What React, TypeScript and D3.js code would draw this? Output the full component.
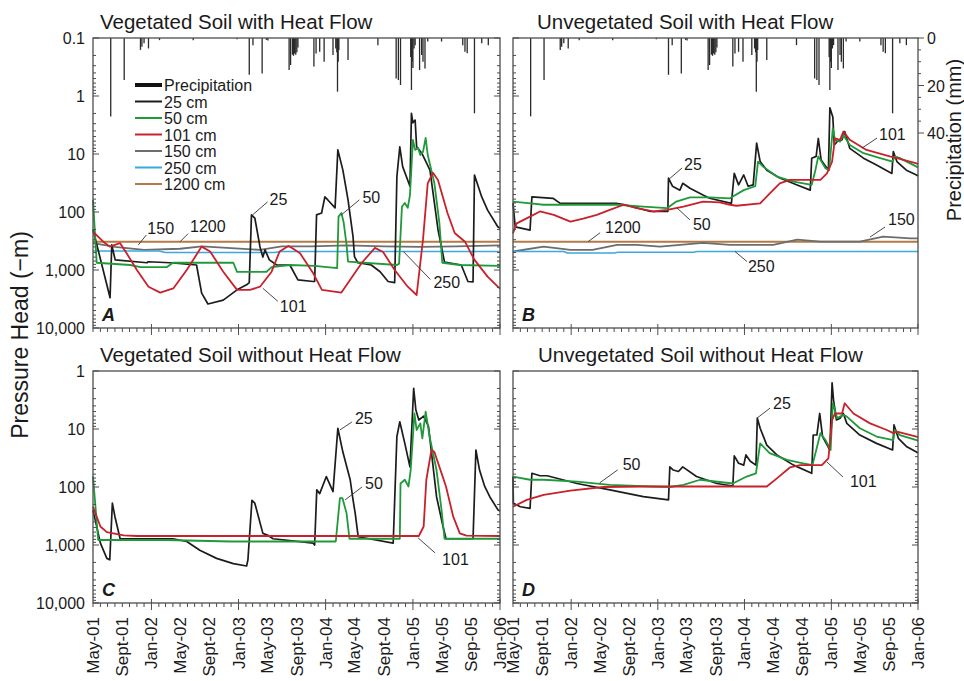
import React from 'react';
import * as d3 from 'd3';

type Pt = [number, number];

// x values: months since May 1, 2001; y values: pressure head (−m)
const vegHeat25: Pt[] = [[0,200],[2.34,3000],[2.57,370],[3.03,670],[7.39,750],[7.57,720],[10.6,750],[14.26,820],[14.95,2500],[15.8,3850],[17.9,3300],[19.8,2200],[21.1,1800],[21.5,1650],[21.83,112],[22.3,127],[23.0,400],[23.4,600],[23.7,450],[24.3,670],[25.3,820],[27.1,820],[28.2,1480],[30.3,1580],[30.5,1580],[30.77,112],[31.46,104],[31.9,55],[32.3,62],[33.3,85],[33.7,8.5],[34.4,19],[35.1,62],[35.8,267],[36.0,590],[36.45,750],[38.3,820],[39.5,1070],[40.6,1580],[41.5,1650],[41.8,24.5],[42.2,7.5],[42.6,16.5],[43.6,36],[43.8,2.0],[44.0,2.9],[44.3,2.6],[44.5,7.5],[45.2,9.6],[46.4,19],[47.5,200],[48.4,730],[50.7,820],[51.6,1580],[52.3,1600],[52.5,23],[53.5,55],[54.3,93],[55.7,180],[56,190]];
const vegHeat50: Pt[] = [[0,62],[0.5,750],[5.1,820],[6.5,890],[10.2,890],[11,750],[19.3,750],[19.8,1080],[23.9,1080],[24.6,890],[27.1,820],[30.5,850],[33.6,930],[33.8,120],[34.2,104],[34.5,150],[34.9,370],[35.1,715],[41.8,820],[42.1,780],[42.5,81],[42.9,70],[43.3,85],[43.6,51],[44.0,5.7],[44.3,8.5],[44.7,7.9],[45.0,10.4],[45.4,9.2],[45.8,5.3],[46.1,10.4],[47.0,32],[47.7,155],[48.1,750],[50.5,820],[56,850]];
const vegHeat101: Pt[] = [[0,219],[1.4,325],[2.3,395],[3.0,370],[3.7,345],[4.6,515],[6.0,1000],[7.6,1940],[9.2,2450],[11.05,2080],[12.9,1000],[14.95,395],[16.1,480],[17.9,1070],[19.8,2200],[21.6,2200],[23.0,1940],[24.6,1070],[25.7,480],[26.9,385],[27.5,425],[28.5,515],[30.3,1140],[31.5,2200],[34.2,2450],[37.0,750],[38.8,415],[39.9,490],[41.5,1000],[43.3,1940],[44.5,2700],[45.4,300],[46.1,32],[46.8,21],[47.5,28],[48.8,104],[49.8,230],[51.2,325],[52.5,670],[54.3,1300],[55.7,1940],[56,2100]];
const vegHeat150: Pt[] = [[0,345],[3,400],[7,450],[12,430],[15,390],[19,420],[23,450],[26,390],[30,390],[35,375],[40,390],[45,400],[50,390],[56,375]];
const vegHeat250: Pt[] = [[0,470],[9,470],[10,500],[25,500],[26,480],[56,480]];
const vegHeat1200: Pt[] = [[0,325],[56,325]];

const unvegHeat25: Pt[] = [[0,70],[0.3,180],[2.35,205],[2.6,55],[5.5,58],[6.5,71],[14.3,71],[15.5,75],[19,98],[21.4,98],[21.5,26],[22.1,36],[23.1,42],[23.5,32],[24.5,39],[26.3,51],[27.2,58],[30.2,71],[30.6,21.6],[31.2,34],[31.9,23],[32.5,36],[33.2,34],[33.7,6.5],[34.2,13.5],[35.1,19],[36.9,26],[39.2,34],[41.1,42],[41.3,11.8],[41.9,11],[42.2,5.4],[42.6,12.7],[43.6,19],[43.8,1.6],[44.2,2.3],[44.4,7],[44.8,6.1],[45.5,5.7],[45.9,4.1],[46.6,8],[48.5,11.8],[50.3,15.5],[52.4,21.6],[52.6,9.1],[53.1,13.5],[54.4,19],[55.8,23],[56,24]];
const unvegHeat50: Pt[] = [[0,66],[2.4,71],[4.2,75],[14.4,75],[18,81],[21.3,86],[22.6,66],[24.5,56],[27.2,56],[30,58],[31.9,42],[33.5,36],[33.9,13.5],[34.6,16.5],[36.5,24.5],[38.8,30],[41.3,34],[41.8,19],[42.2,11],[43.2,17.6],[43.7,19],[44.2,3.6],[44.5,5.7],[45.2,6.1],[45.7,4.7],[46.6,7],[48.5,9.7],[50.8,11.8],[52.5,13.5],[52.8,11],[53.5,11.8],[55.8,16.5],[56,17]];
const unvegHeat101: Pt[] = [[0,233],[0.5,157],[2.35,120],[3.7,98],[5.6,112],[7.9,147],[9.7,130],[11.6,112],[13.4,92],[15.3,75],[17.1,86],[19.4,98],[21.3,92],[23.6,81],[26.3,66],[28.6,68],[30,75],[30.9,78],[34.2,71],[35.5,48],[36.9,32],[38.3,28],[42.5,28],[43.4,21.6],[44.1,13.5],[44.5,5.4],[45.2,5.7],[45.7,4.1],[46.6,5.7],[48.9,8.5],[52.1,11],[53.1,11.8],[55.8,14.5],[56,15]];
const unvegHeat150: Pt[] = [[0,480],[4.2,395],[7.9,450],[11,450],[14.4,370],[17.1,370],[20.3,395],[26.3,340],[30,370],[36,370],[39.3,300],[42.5,325],[48,325],[51.2,265],[55,285],[56,285]];
const unvegHeat250: Pt[] = [[0,480],[7,480],[7.5,510],[14,510],[14.5,495],[25,495],[25.5,480],[56,480]];
const unvegHeat1200: Pt[] = [[0,325],[56,325]];

const vegNoHeat25: Pt[] = [[0,250],[1,930],[1.9,1700],[2.3,1800],[2.65,190],[3,325],[3.7,780],[11,780],[12.9,870],[14.7,1230],[17,1700],[19.3,2090],[21.1,2300],[21.3,1800],[21.9,170],[22.3,190],[23.4,630],[24.1,680],[24.8,780],[30.3,930],[30.5,1000],[30.8,112],[31.2,130],[32.1,66],[33,120],[33.7,9.7],[34.4,25],[35.4,75],[35.8,167],[36.1,285],[36.5,720],[38,780],[41.3,930],[41.8,13.5],[42.2,7.5],[42.9,17.7],[43.6,45],[44.1,2.0],[44.4,4.7],[44.8,7],[45.5,6],[46.2,9],[47.3,147],[48.2,480],[48.6,780],[52.3,780],[52.7,23],[53.2,51],[53.9,98],[54.6,147],[55.75,250],[56,260]];
const vegNoHeat50: Pt[] = [[0,66],[0.7,820],[10,820],[19,870],[33.4,870],[34,156],[34.35,156],[34.9,285],[35.3,780],[42.2,780],[42.3,87],[42.9,75],[43.4,98],[43.7,51],[44.2,5.4],[44.5,10.4],[45,8],[45.3,14.5],[45.8,5.0],[46.35,13.5],[47.3,51],[48,250],[48.4,780],[56,780]];
const vegNoHeat101: Pt[] = [[0,219],[1,480],[1.9,600],[4.2,680],[6,700],[44.8,700],[45.5,480],[45.9,75],[46.6,23],[47,25],[47.7,45],[48.6,98],[49.6,325],[50.5,630],[51.4,690],[56,700]];

const unvegNoHeat25: Pt[] = [[0,66],[0.05,190],[1,219],[2.35,233],[2.6,58],[3.7,64],[4.7,64],[8.8,87],[13.4,112],[18,147],[21.5,167],[21.7,45],[22.2,51],[22.9,54],[23.5,45],[25.4,66],[28.2,87],[30.4,96],[30.6,29],[31.2,39],[31.9,42],[32.2,28],[32.8,36],[33.6,42],[33.8,6.5],[34.2,9.7],[35.1,19],[36.5,28],[38.8,42],[41.3,58],[41.5,12.7],[42,12.7],[42.4,5.4],[42.8,13.5],[43.8,23],[44.1,1.6],[44.3,3.2],[44.7,7],[45.2,6.5],[45.7,5.4],[46.2,8],[48,12.7],[50.3,17.7],[52.5,23],[52.7,8.5],[53.3,14.5],[54.4,20],[55.8,25],[56,26]];
const unvegNoHeat50: Pt[] = [[0,66],[2.35,75],[4.2,75],[8.8,81],[13.4,92],[19,98],[21.7,100],[23.6,92],[25.9,75],[30.4,87],[32.3,66],[33.6,58],[34.2,17.7],[35.5,26],[37.9,34],[40.1,39],[41.4,42],[42.5,11.8],[43.2,15.5],[43.9,23],[44.2,3.6],[44.8,6.5],[45.7,5.7],[46.2,6.1],[48,9.7],[50.3,13.5],[52.6,15.5],[52.8,10.4],[53.5,12.7],[55.8,15.5],[56,16]];
const unvegNoHeat101: Pt[] = [[0,219],[1.9,167],[4.2,137],[7.9,115],[12.5,100],[18,98],[35.1,98],[36.5,71],[38.3,46],[39.7,42],[42.7,42],[43.6,32],[44.1,7],[44.5,5.4],[45.5,5.4],[45.9,3.6],[47.1,5.4],[49.4,8],[51.7,10.4],[52.6,11.8],[53.1,11.1],[55.8,13.5],[56,14]];

// x: months since May 1, 2001; y: daily precipitation (mm)
const precipitation: Pt[] = [[2.43,33],[4.26,17.7],[6.5,5],[6.7,3.7],[7.0,2.2],[7.6,4.4],[9.1,0.9],[13.8,0.9],[19.8,0.5],[21.5,15.5],[22.05,3],[23.3,14.9],[23.9,0.8],[24.1,1],[27.0,13.5],[27.2,11.4],[27.45,7],[27.6,7.5],[27.75,6.5],[27.9,7],[28.05,6],[28.2,4],[30.4,12],[30.7,6.5],[31.2,5.8],[31.8,10],[33.0,7.2],[33.4,4.4],[33.55,6],[33.65,22.6],[33.75,10],[33.85,5],[35.1,9.3],[39.2,3],[41.7,17],[42.0,17.7],[42.3,19.8],[43.7,8],[43.8,21.9],[43.9,10],[44.0,12.6],[44.15,4.4],[44.3,3],[44.9,13.5],[45.2,7.2],[45.4,10],[45.7,12.8],[46.1,1.5],[48,1.5],[50.9,3],[51.2,5.8],[51.5,6.4],[52.5,31.7],[53.5,2.2],[54.4,3]];

const xTickLabels = ['May-01','Sept-01','Jan-02','May-02','Sept-02','Jan-03','May-03','Sept-03','Jan-04','May-04','Sept-04','Jan-05','May-05','Sep-05','Jan-06'];
const legendLabels = ['Precipitation','25 cm','50 cm','101 cm','150 cm','250 cm','1200 cm'];
const precipTickValues = [0, 20, 40];
const panelTitles = ['Vegetated Soil with Heat Flow','Unvegetated Soil with Heat Flow','Vegetated Soil without Heat Flow','Unvegetated Soil without Heat Flow'];

const FONT = "'Liberation Sans', Arial, Helvetica, sans-serif";
const COL: Record<string, string> = {
  '25': '#1c1c1c', '50': '#1e9a3a', '101': '#c9212b', '150': '#6d6d6d', '250': '#3aa9dd', '1200': '#b27a44',
};
const START = new Date(2001, 4, 1);
const END = new Date(2006, 0, 1);
const toDate = (m: number) => {
  const f = Math.floor(m);
  const a = d3.timeMonth.offset(START, f);
  const b = d3.timeMonth.offset(START, f + 1);
  return new Date(a.getTime() + (m - f) * (b.getTime() - a.getTime()));
};

type Note = { label: string; at: Pt; end: Pt; text: Pt };
type Panel = {
  id: string; title: string; left: number; right: number; top: number; bottom: number;
  domain: [number, number]; yLabels: boolean; precip: boolean; precipAxis: boolean;
  series: { key: string; data: Pt[]; w: number }[]; notes: Note[]; titleX: number;
};

const PANELS: Panel[] = [
  {
    id: 'A', title: panelTitles[0], left: 93, right: 500, top: 38, bottom: 328, domain: [0.1, 10000], yLabels: true, precip: true, precipAxis: false, titleX: 100,
    series: [
      { key: '1200', data: vegHeat1200, w: 2 }, { key: '150', data: vegHeat150, w: 1.8 }, { key: '250', data: vegHeat250, w: 1.6 },
      { key: '25', data: vegHeat25, w: 1.7 }, { key: '50', data: vegHeat50, w: 1.8 }, { key: '101', data: vegHeat101, w: 1.8 },
    ],
    notes: [
      { label: '25', at: [22.0, 112], end: [15, -13], text: [17, -10] },
      { label: '50', at: [34.2, 112], end: [18, -15], text: [21, -12] },
      { label: '150', at: [6.2, 370], end: [8, -10], text: [9, -11] },
      { label: '1200', at: [12.0, 325], end: [8, -8], text: [10, -10] },
      { label: '101', at: [23.4, 2070], end: [15, 13], text: [17, 24] },
      { label: '250', at: [42.7, 480], end: [27, 28], text: [30, 36] },
    ],
  },
  {
    id: 'B', title: panelTitles[1], left: 513, right: 918, top: 38, bottom: 328, domain: [0.1, 10000], yLabels: false, precip: true, precipAxis: true, titleX: 537,
    series: [
      { key: '1200', data: unvegHeat1200, w: 2 }, { key: '150', data: unvegHeat150, w: 1.8 }, { key: '250', data: unvegHeat250, w: 1.6 },
      { key: '25', data: unvegHeat25, w: 1.7 }, { key: '50', data: unvegHeat50, w: 1.8 }, { key: '101', data: unvegHeat101, w: 1.8 },
    ],
    notes: [
      { label: '25', at: [21.44, 28], end: [14, -12], text: [16, -10] },
      { label: '50', at: [22.7, 85], end: [13, 12], text: [16, 22] },
      { label: '1200', at: [10.4, 325], end: [12, -9], text: [17, -9] },
      { label: '250', at: [30.7, 480], end: [12, 10], text: [13, 20] },
      { label: '150', at: [49.4, 270], end: [15, -10], text: [18, -12] },
      { label: '101', at: [48.3, 7.9], end: [15, -10], text: [17, -8] },
    ],
  },
  {
    id: 'C', title: panelTitles[2], left: 93, right: 500, top: 371, bottom: 603, domain: [1, 10000], yLabels: true, precip: false, precipAxis: false, titleX: 100,
    series: [
      { key: '25', data: vegNoHeat25, w: 1.7 }, { key: '50', data: vegNoHeat50, w: 1.8 }, { key: '101', data: vegNoHeat101, w: 1.8 },
    ],
    notes: [
      { label: '25', at: [34.0, 10.4], end: [12, -8], text: [15, -6] },
      { label: '50', at: [34.7, 167], end: [17, -13], text: [20, -11] },
      { label: '101', at: [44.7, 755], end: [17, 15], text: [24, 27] },
    ],
  },
  {
    id: 'D', title: panelTitles[3], left: 513, right: 918, top: 371, bottom: 603, domain: [1, 10000], yLabels: false, precip: false, precipAxis: false, titleX: 538,
    series: [
      { key: '25', data: unvegNoHeat25, w: 1.7 }, { key: '50', data: unvegNoHeat50, w: 1.8 }, { key: '101', data: unvegNoHeat101, w: 1.8 },
    ],
    notes: [
      { label: '25', at: [33.75, 6.5], end: [13, -10], text: [16, -9] },
      { label: '50', at: [12.0, 85], end: [18, -13], text: [23, -13] },
      { label: '101', at: [43.4, 37], end: [16, 15], text: [23, 25] },
    ],
  },
];

function logTicks(domain: [number, number]) {
  const out: { v: number; major: boolean }[] = [];
  const k0 = Math.round(Math.log10(domain[0]));
  const k1 = Math.round(Math.log10(domain[1]));
  for (let k = k0; k < k1; k++) {
    for (let j = 1; j <= 9; j++) out.push({ v: j * Math.pow(10, k), major: j === 1 });
  }
  out.push({ v: Math.pow(10, k1), major: true });
  return out;
}
const fmtY = (v: number) => (v < 1 ? '0.1' : d3.format(',')(Math.round(v)));

function PanelView({ p }: { p: Panel }) {
  const x = d3.scaleTime().domain([START, END]).range([p.left, p.right]);
  const y = d3.scaleLog().domain(p.domain).range([p.top, p.bottom]);
  const pr = d3.scaleLinear().domain([0, 40]).range([p.top, p.top + 95]);
  const line = d3.line<Pt>().x(d => x(toDate(d[0]))).y(d => y(d[1]));
  const lt = logTicks(p.domain);
  const months = d3.range(0, 57);
  const frame = '#4d4d4d';
  return (
    <g>
      <text x={p.titleX} y={p.top - 9} fontSize={20.5} fontFamily={FONT} fill="#1a1a1a">{p.title}</text>
      {p.precip && precipitation.map((d, i) => (
        <line key={'pr' + i} x1={x(toDate(d[0]))} x2={x(toDate(d[0]))} y1={pr(0)} y2={pr(d[1])} stroke="#2a2a2a" strokeWidth={1.3} />
      ))}
      {p.series.map(s => (
        <path key={s.key} d={line(s.data) || ''} fill="none" stroke={COL[s.key]} strokeWidth={s.w} strokeLinejoin="round" />
      ))}
      {p.notes.map((n, i) => {
        const ax = x(toDate(n.at[0]));
        const ay = y(n.at[1]);
        return (
          <g key={'n' + i}>
            <line x1={ax} y1={ay} x2={ax + n.end[0]} y2={ay + n.end[1]} stroke="#333" strokeWidth={0.9} />
            <text x={ax + n.text[0]} y={ay + n.text[1]} fontSize={16} fontFamily={FONT} fill="#1a1a1a">{n.label}</text>
          </g>
        );
      })}
      <rect x={p.left} y={p.top} width={p.right - p.left} height={p.bottom - p.top} fill="none" stroke={frame} strokeWidth={1.3} />
      {lt.map((t, i) => (
        <g key={'lt' + i}>
          <line x1={p.left} x2={p.left + (t.major ? 6 : 3)} y1={y(t.v)} y2={y(t.v)} stroke={frame} strokeWidth={1} />
          {!p.precipAxis && <line x1={p.right} x2={p.right - (t.major ? 6 : 3)} y1={y(t.v)} y2={y(t.v)} stroke={frame} strokeWidth={1} />}
          {p.yLabels && t.major && (
            <text x={p.left - 8} y={y(t.v) + 6} textAnchor="end" fontSize={16} fontFamily={FONT} fill="#1a1a1a">{fmtY(t.v)}</text>
          )}
        </g>
      ))}
      {months.map(m => {
        const xm = x(toDate(m));
        const major = (m - 8) % 12 === 0;
        return <line key={'mt' + m} x1={xm} x2={xm} y1={p.bottom - (major ? 4 : 0)} y2={p.bottom + (major ? 7 : 4)} stroke={frame} strokeWidth={1} />;
      })}
      {p.precipAxis && d3.range(0, 41, 5).map(v => (
        <line key={'pt' + v} x1={p.right} x2={p.right + (v % 20 === 0 ? 6 : 3)} y1={pr(v)} y2={pr(v)} stroke={frame} strokeWidth={1} />
      ))}
      {p.precipAxis && precipTickValues.map(v => (
        <text key={'pl' + v} x={p.right + 9} y={pr(v) + 6} fontSize={16} fontFamily={FONT} fill="#1a1a1a">{v}</text>
      ))}
      <text x={p.left + 9} y={p.bottom - 7} fontSize={18} fontWeight="bold" fontStyle="italic" fontFamily={FONT} fill="#1a1a1a">{p.id}</text>
    </g>
  );
}

function XLabels({ left, right, y }: { left: number; right: number; y: number }) {
  const x = d3.scaleTime().domain([START, END]).range([left, right]);
  return (
    <g>
      {xTickLabels.map((lab, i) => {
        const xm = x(toDate(i * 4));
        return (
          <text key={lab + i} transform={`translate(${xm + 6},${y}) rotate(-90)`} textAnchor="end" fontSize={17} fontFamily={FONT} fill="#1a1a1a">{lab}</text>
        );
      })}
    </g>
  );
}

function Legend() {
  const keys = ['p', '25', '50', '101', '150', '250', '1200'];
  const ys = d3.scaleLinear().domain([0, 6]).range([85, 184]);
  return (
    <g>
      {legendLabels.map((lab, i) => (
        <g key={lab}>
          <line x1={135} x2={162} y1={ys(i)} y2={ys(i)} stroke={i === 0 ? '#111' : COL[keys[i]]} strokeWidth={i === 0 ? 4 : 2} />
          <text x={164} y={ys(i) + 6} fontSize={16} fontFamily={FONT} fill="#1a1a1a">{lab}</text>
        </g>
      ))}
    </g>
  );
}

export default function App() {
  return (
    <svg width={964} height={681} viewBox="0 0 964 681" style={{ position: 'absolute', left: 0, top: 0, background: '#fff' }}>
      <rect x={0} y={0} width={964} height={681} fill="#fff" />
      {PANELS.map(p => <PanelView key={p.id} p={p} />)}
      <Legend />
      <XLabels left={93} right={500} y={617} />
      <XLabels left={513} right={918} y={617} />
      <text transform="translate(28,335) rotate(-90)" textAnchor="middle" fontSize={23} fontFamily={FONT} fill="#1a1a1a">Pressure Head (−m)</text>
      <text transform="translate(961,140) rotate(-90)" textAnchor="middle" fontSize={20} fontFamily={FONT} fill="#1a1a1a">Precipitation (mm)</text>
    </svg>
  );
}
